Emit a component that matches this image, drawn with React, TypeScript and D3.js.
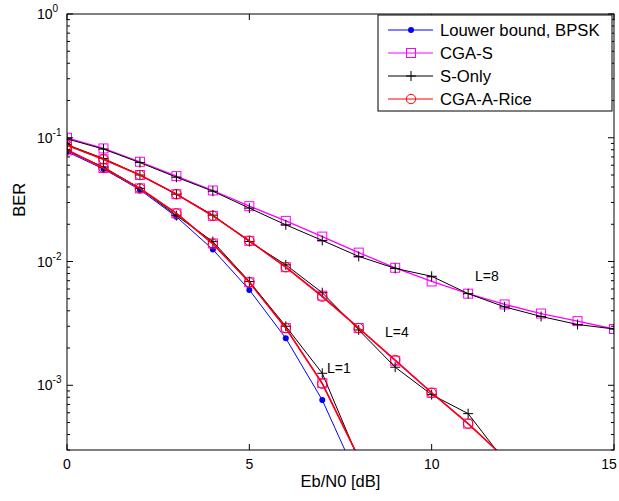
import React from "react";
import * as d3 from "d3";

const ebn0 = [0, 1, 2, 3, 4, 5, 6, 7, 8, 9, 10, 11, 12, 13, 14, 15];

const bpskL1 = [0.077, 0.056, 0.038, 0.023, 0.0125, 0.0059, 0.0024, 0.00076, 0.00017];

const cgaSL1 = [0.079, 0.057, 0.039, 0.0245, 0.014, 0.0068, 0.0029, 0.00104, 0.00026];
const cgaSL4 = [0.087, 0.067, 0.05, 0.035, 0.0234, 0.0147, 0.009, 0.0053, 0.0029, 0.00158, 0.00087, 0.00049, 0.00026];
const cgaSL8 = [0.1, 0.082, 0.064, 0.049, 0.0375, 0.028, 0.0213, 0.0159, 0.0118, 0.0089, 0.0069, 0.0055, 0.0045, 0.0038, 0.0033, 0.00285];

const sOnlyL1 = [0.079, 0.058, 0.039, 0.0235, 0.0145, 0.0069, 0.003, 0.00125, 0.00025];
const sOnlyL4 = [0.088, 0.068, 0.05, 0.035, 0.0237, 0.0145, 0.0094, 0.0056, 0.0028, 0.0014, 0.00084, 0.00059, 0.000245];
const sOnlyL8 = [0.098, 0.081, 0.063, 0.048, 0.037, 0.027, 0.0198, 0.0148, 0.011, 0.0088, 0.0076, 0.0055, 0.0043, 0.0036, 0.0031, 0.00285];

const riceL1 = [0.08, 0.057, 0.039, 0.0245, 0.0139, 0.0068, 0.0029, 0.00103, 0.00026];
const riceL4 = [0.087, 0.067, 0.05, 0.035, 0.0234, 0.0147, 0.009, 0.0052, 0.0029, 0.0016, 0.00087, 0.00049, 0.00026];

const xTicks = [0, 5, 10, 15];
const yDecades = [0, -1, -2, -3];
const legendLabels = ["Louwer bound, BPSK", "CGA-S", "S-Only", "CGA-A-Rice"];
const curveLabels = [
  { text: "L=1", x: 7.13, y: 0.00138 },
  { text: "L=4", x: 8.72, y: 0.0027 },
  { text: "L=8", x: 11.19, y: 0.00765 },
];

const W = 619;
const H = 501;
const m = { left: 67, right: 614, top: 14, bottom: 450 };
const FONT = "'Liberation Sans', Arial, Helvetica, sans-serif";

export default function App() {
  const x = d3.scaleLinear().domain([0, 15]).range([m.left, m.right]);
  const y = d3.scaleLog().domain([3e-4, 1]).range([m.bottom, m.top]);

  const line = d3
    .line<number>()
    .x((_, i) => x(ebn0[i]))
    .y((d) => y(d));

  const series = [
    { name: "bpsk", data: [bpskL1], color: "#0000ff", width: 1, marker: "dot" },
    { name: "cgas", data: [cgaSL1, cgaSL4, cgaSL8], color: "#ff00ff", width: 1.3, marker: "square" },
    { name: "sonly", data: [sOnlyL1, sOnlyL4, sOnlyL8], color: "#000000", width: 1, marker: "plus" },
    { name: "rice", data: [riceL1, riceL4], color: "#ff0000", width: 1.5, marker: "circle" },
  ];

  const marker = (type: string, cx: number, cy: number, color: string, key: string) => {
    if (type === "dot") return <circle key={key} cx={cx} cy={cy} r={3} fill={color} />;
    if (type === "square")
      return <rect key={key} x={cx - 4.5} y={cy - 4.5} width={9} height={9} fill="none" stroke={color} strokeWidth={1} />;
    if (type === "plus")
      return (
        <path key={key} d={`M${cx - 5},${cy}H${cx + 5}M${cx},${cy - 5}V${cy + 5}`} stroke={color} strokeWidth={1} fill="none" />
      );
    return <circle key={key} cx={cx} cy={cy} r={4.7} fill="none" stroke={color} strokeWidth={1} />;
  };

  const minorTicks: number[] = [];
  for (let e = -4; e < 0; e++) {
    for (let k = 2; k <= 9; k++) {
      const v = k * Math.pow(10, e);
      if (v >= 3e-4 && v < 1) minorTicks.push(v);
    }
  }

  const legX = 378;
  const legY = 15;
  const legW = 234;
  const legH = 96;
  const legRows = [30, 53, 76, 99];

  return (
    <svg
      width={W}
      height={H}
      style={{ position: "absolute", left: 0, top: 0, background: "#fff" }}
      fontFamily={FONT}
    >
      <rect x={0} y={0} width={W} height={H} fill="#fff" />
      <defs>
        <clipPath id="plotclip">
          <rect x={m.left} y={m.top} width={m.right - m.left} height={m.bottom - m.top} />
        </clipPath>
      </defs>

      <g clipPath="url(#plotclip)">
        {series.map((s) =>
          s.data.map((arr, j) => (
            <g key={`${s.name}-${j}`}>
              <path d={line(arr) || ""} fill="none" stroke={s.color} strokeWidth={s.width} />
              {arr.map((v, i) => marker(s.marker, x(ebn0[i]), y(v), s.color, `${s.name}-${j}-${i}`))}
            </g>
          ))
        )}
      </g>

      <rect x={m.left} y={m.top} width={m.right - m.left} height={m.bottom - m.top} fill="none" stroke="#000" strokeWidth={1} />

      {xTicks.map((t) => (
        <g key={`xt${t}`}>
          <line x1={x(t)} x2={x(t)} y1={m.bottom} y2={m.bottom - 6} stroke="#000" />
          <line x1={x(t)} x2={x(t)} y1={m.top} y2={m.top + 6} stroke="#000" />
          <text x={Math.min(x(t), 609)} y={m.bottom + 14} textAnchor="middle" dominantBaseline="central" fontSize={14}>
            {t}
          </text>
        </g>
      ))}

      {yDecades.map((e) => {
        const yy = y(Math.pow(10, e));
        return (
          <g key={`yt${e}`}>
            <line x1={m.left} x2={m.left + 6} y1={yy} y2={yy} stroke="#000" />
            <line x1={m.right} x2={m.right - 6} y1={yy} y2={yy} stroke="#000" />
            <text x={37} y={yy} dominantBaseline="central" fontSize={14}>
              10
              <tspan fontSize={10} dy={-6}>
                {e === 0 ? "0" : `-${-e}`}
              </tspan>
            </text>
          </g>
        );
      })}

      {minorTicks.map((v, i) => (
        <g key={`ym${i}`}>
          <line x1={m.left} x2={m.left + 3} y1={y(v)} y2={y(v)} stroke="#000" />
          <line x1={m.right} x2={m.right - 3} y1={y(v)} y2={y(v)} stroke="#000" />
        </g>
      ))}

      <text x={(m.left + m.right) / 2} y={487} textAnchor="middle" fontSize={16.5}>
        Eb/N0 [dB]
      </text>
      <text
        transform={`translate(19, ${y(0.0316)}) rotate(-90)`}
        textAnchor="middle"
        dominantBaseline="central"
        fontSize={16.5}
      >
        BER
      </text>

      {curveLabels.map((c) => (
        <text key={c.text} x={x(c.x)} y={y(c.y)} dominantBaseline="central" fontSize={14}>
          {c.text}
        </text>
      ))}

      <rect x={legX} y={legY} width={legW} height={legH} fill="#fff" stroke="#000" strokeWidth={1} />
      {series.map((s, i) => (
        <g key={`leg${i}`}>
          <line x1={388} x2={433} y1={legRows[i]} y2={legRows[i]} stroke={s.color} strokeWidth={1} />
          {marker(s.marker, 411, legRows[i], s.color, `legm${i}`)}
          <text x={440} y={legRows[i]} dominantBaseline="central" fontSize={16.7}>
            {legendLabels[i]}
          </text>
        </g>
      ))}
    </svg>
  );
}
